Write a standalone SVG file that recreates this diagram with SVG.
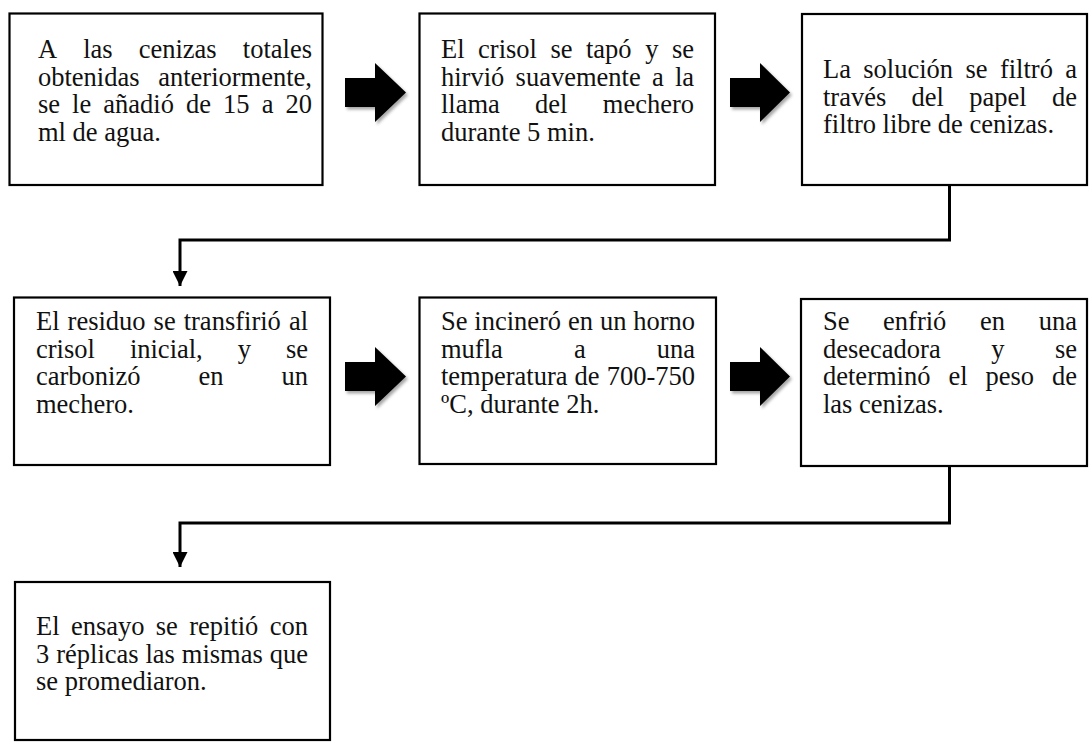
<svg xmlns="http://www.w3.org/2000/svg" width="1091" height="743" viewBox="0 0 1091 743">
  <style>
    .box { fill: #ffffff; stroke: #000000; stroke-width: 2.2; }
    .txt { font-family: "Liberation Serif", "Times New Roman", serif; font-size: 26.5px; fill: #111111; }
    .e { text-anchor: end; }
    .conn { fill: none; stroke: #000000; stroke-width: 3; }
    .blk { fill: #000000; filter: url(#soft); }
  </style>
  <defs>
    <filter id="soft" x="-20%" y="-20%" width="150%" height="150%">
      <feDropShadow dx="2" dy="2.5" stdDeviation="1.5" flood-color="#000000" flood-opacity="0.35"/>
    </filter>
    <marker id="tip" viewBox="0 0 10 10" refX="10" refY="5" markerWidth="5" markerHeight="5" markerUnits="strokeWidth" orient="auto">
      <path d="M0,0 L10,5 L0,10 Z" fill="#000000"/>
    </marker>
  </defs>

  <rect width="1091" height="743" fill="#ffffff"/>

  <!-- flow connectors: block arrows between steps and elbow lines between rows -->
  <g id="connectors">
    <path class="blk" d="M345,78 H375 V63 L406,92.5 L375,122 V107 H345 Z"/>
    <path class="blk" d="M730,78 H760 V63 L790,92.5 L760,122 V107 H730 Z"/>
    <path class="blk" d="M345,362 H375 V347 L406,376.5 L375,406 V391 H345 Z"/>
    <path class="blk" d="M730,362 H760 V347 L790,376.5 L760,406 V391 H730 Z"/>
    <path class="conn" d="M949.5,185 V240 H180 V286" marker-end="url(#tip)"/>
    <path class="conn" d="M949.5,466 V523 H180 V567" marker-end="url(#tip)"/>
  </g>

  <!-- justified lines: each word placed on its own, last word anchored at the right margin -->
  <g id="step1">
    <rect class="box" x="9.5" y="13.5" width="313" height="171.5"/>
    <text class="txt"><tspan x="38" y="58">A</tspan><tspan x="83.2" y="58">las</tspan><tspan x="138.7" y="58">cenizas</tspan><tspan class="e" x="312" y="58">totales</tspan></text>
    <text class="txt"><tspan x="38" y="85.7">obtenidas</tspan><tspan class="e" x="312" y="85.7">anteriormente,</tspan></text>
    <text class="txt"><tspan x="38" y="113.4">se</tspan><tspan x="72.1" y="113.4">le</tspan><tspan x="103.3" y="113.4">añadió</tspan><tspan x="186" y="113.4">de</tspan><tspan x="223.1" y="113.4">15</tspan><tspan x="261.7" y="113.4">a</tspan><tspan class="e" x="312" y="113.4">20</tspan></text>
    <text class="txt" x="38" y="141.1">ml de agua.</text>
  </g>

  <g id="step2">
    <rect class="box" x="419.5" y="13.5" width="295.5" height="171.5"/>
    <text class="txt"><tspan x="441" y="58">El</tspan><tspan x="478.1" y="58">crisol</tspan><tspan x="550.5" y="58">se</tspan><tspan x="586" y="58">tapó</tspan><tspan x="645.2" y="58">y</tspan><tspan class="e" x="694" y="58">se</tspan></text>
    <text class="txt"><tspan x="441" y="85.7">hirvió</tspan><tspan x="515.6" y="85.7">suavemente</tspan><tspan x="651.9" y="85.7">a</tspan><tspan class="e" x="694" y="85.7">la</tspan></text>
    <text class="txt"><tspan x="441" y="113.4">llama</tspan><tspan x="535.1" y="113.4">del</tspan><tspan class="e" x="694" y="113.4">mechero</tspan></text>
    <text class="txt" x="441" y="141.1">durante 5 min.</text>
  </g>

  <g id="step3">
    <rect class="box" x="802" y="14" width="285" height="171"/>
    <text class="txt"><tspan x="823" y="78">La</tspan><tspan x="863.3" y="78">solución</tspan><tspan x="965.5" y="78">se</tspan><tspan x="999.9" y="78">filtró</tspan><tspan class="e" x="1077" y="78">a</tspan></text>
    <text class="txt"><tspan x="823" y="105.7">través</tspan><tspan x="911.6" y="105.7">del</tspan><tspan x="969.3" y="105.7">papel</tspan><tspan class="e" x="1077" y="105.7">de</tspan></text>
    <text class="txt" x="823" y="133.4">filtro libre de cenizas.</text>
  </g>

  <g id="step4">
    <rect class="box" x="14" y="297.5" width="316" height="167.5"/>
    <text class="txt"><tspan x="36" y="330">El</tspan><tspan x="67.6" y="330">residuo</tspan><tspan x="153.6" y="330">se</tspan><tspan x="183.7" y="330">transfirió</tspan><tspan class="e" x="308" y="330">al</tspan></text>
    <text class="txt"><tspan x="36" y="357.7">crisol</tspan><tspan x="129.9" y="357.7">inicial,</tspan><tspan x="237.7" y="357.7">y</tspan><tspan class="e" x="308" y="357.7">se</tspan></text>
    <text class="txt"><tspan x="36" y="385.4">carbonizó</tspan><tspan x="198.5" y="385.4">en</tspan><tspan class="e" x="308" y="385.4">un</tspan></text>
    <text class="txt" x="36" y="413.1">mechero.</text>
  </g>

  <g id="step5">
    <rect class="box" x="419.5" y="297.5" width="296.5" height="166.5"/>
    <text class="txt"><tspan x="441" y="330">Se</tspan><tspan x="474.3" y="330">incineró</tspan><tspan x="568" y="330">en</tspan><tspan x="599.9" y="330">un</tspan><tspan class="e" x="695" y="330">horno</tspan></text>
    <text class="txt"><tspan x="441" y="357.7">mufla</tspan><tspan x="573.9" y="357.7">a</tspan><tspan class="e" x="695" y="357.7">una</tspan></text>
    <text class="txt"><tspan x="441" y="385.4">temperatura</tspan><tspan x="574.6" y="385.4">de</tspan><tspan class="e" x="695" y="385.4">700-750</tspan></text>
    <text class="txt" x="441" y="413.1">ºC, durante 2h.</text>
  </g>

  <g id="step6">
    <rect class="box" x="801" y="299" width="286" height="167"/>
    <text class="txt"><tspan x="823" y="330">Se</tspan><tspan x="883.1" y="330">enfrió</tspan><tspan x="980.1" y="330">en</tspan><tspan class="e" x="1077" y="330">una</tspan></text>
    <text class="txt"><tspan x="823" y="357.7">desecadora</tspan><tspan x="991.2" y="357.7">y</tspan><tspan class="e" x="1077" y="357.7">se</tspan></text>
    <text class="txt"><tspan x="823" y="385.4">determinó</tspan><tspan x="948.4" y="385.4">el</tspan><tspan x="985.5" y="385.4">peso</tspan><tspan class="e" x="1077" y="385.4">de</tspan></text>
    <text class="txt" x="823" y="413.1">las cenizas.</text>
  </g>

  <g id="step7">
    <rect class="box" x="15" y="582" width="315" height="158"/>
    <text class="txt"><tspan x="36" y="635">El</tspan><tspan x="70.9" y="635">ensayo</tspan><tspan x="155.8" y="635">se</tspan><tspan x="189.2" y="635">repitió</tspan><tspan class="e" x="308" y="635">con</tspan></text>
    <text class="txt"><tspan x="36" y="662.7">3</tspan><tspan x="56.2" y="662.7">réplicas</tspan><tspan x="145.5" y="662.7">las</tspan><tspan x="181.8" y="662.7">mismas</tspan><tspan class="e" x="308" y="662.7">que</tspan></text>
    <text class="txt" x="36" y="690.4">se promediaron.</text>
  </g>
</svg>
